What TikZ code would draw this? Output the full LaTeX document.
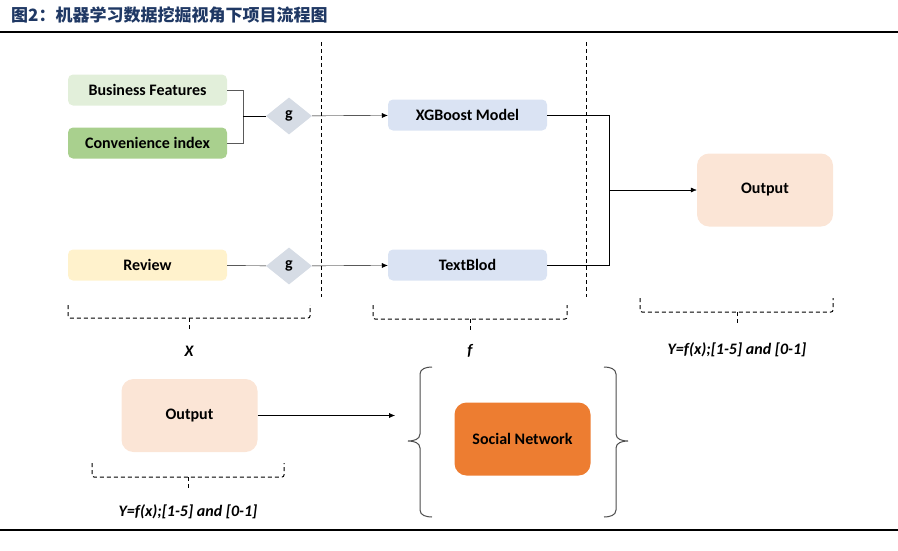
\documentclass[tikz,border=0pt]{standalone}
\usepackage{fontspec}
\setmainfont{Carlito}
\newfontfamily\cjk{Noto Sans CJK SC}
\usetikzlibrary{shapes.geometric,arrows.meta}
\definecolor{titleblue}{HTML}{1F3864}
\definecolor{bizfill}{HTML}{E2EFDA}
\definecolor{convfill}{HTML}{A9D08E}
\definecolor{reviewfill}{HTML}{FFF2CC}
\definecolor{modelfill}{HTML}{DAE3F3}
\definecolor{gatefill}{HTML}{D6DCE5}
\definecolor{outfill}{HTML}{FBE5D6}
\definecolor{socialfill}{HTML}{ED7D31}
\tikzset{
  flow/.style={
    every node/.style={font=\bfseries\fontsize{16}{18}\selectfont,inner sep=0pt},
    >={Latex[length=6pt,width=5pt]}
  }
}

\begin{document}
\begin{tikzpicture}[x=1pt, y=-1pt, flow]
            \tikzstyle{box}=[rounded corners=5pt,minimum width=159pt,minimum height=31pt]
            \tikzstyle{bigbox}=[rounded corners=12pt,minimum width=136pt,minimum height=73pt]
            \tikzstyle{gate}=[diamond,fill=gatefill,minimum width=46pt,minimum height=37pt]
            \tikzstyle{dashbrace}=[line width=1pt,dash pattern=on 4pt off 3pt,rounded corners=2pt]
            \tikzstyle{tag}=[font=\bfseries\itshape\fontsize{16}{18}\selectfont]
            \useasboundingbox (0,0) rectangle (898,550);

            % title and rules
            \node[anchor=west,text=titleblue,font=\cjk\bfseries\fontsize{17}{20}\selectfont] (title) at (11,15) {图2：机器学习数据挖掘视角下项目流程图};
            \draw[line width=2pt] (0,32) -- (898,32);
            \draw[line width=2pt] (0,530) -- (898,530);

            % inputs X
            \node[box,fill=bizfill] (biz) at (147.5,90) {Business Features};
            \node[box,fill=convfill] (conv) at (147.5,143) {Convenience index};
            \node[box,fill=reviewfill] (review) at (147.5,265) {Review};
            \node[gate] (g_1) at (289,116) {g};
            \node[gate] (g_2) at (289,266) {g};

            % models f
            \node[box,fill=modelfill] (xgb) at (467.5,115) {XGBoost Model};
            \node[box,fill=modelfill] (tb) at (467.5,265) {TextBlod};

            % outputs
            \node[bigbox,fill=outfill] (out_1) at (765,190) {Output};
            \node[bigbox,fill=outfill] (out_2) at (189.5,415.5) {Output};
            \node[bigbox,fill=socialfill] (social) at (522.5,439) {Social Network};

            \coordinate (j_1) at (243,116);
            \coordinate (j_2) at (609,190);
            \draw[gray!70!black] (biz.east) -| (j_1);
            \draw[gray!70!black] (conv.east) -| (j_1);
            \draw (j_1) -- (g_1);
            \draw[->] (g_1) -- (xgb);
            \draw (review) -- (g_2);
            \draw[->] (g_2) -- (tb);
            \draw (xgb.east) -| (j_2);
            \draw (tb.east) -| (j_2);
            \draw[->] (j_2) -- (out_1);
            \draw[->] (out_2) -- (395,415.5);

            % dashed separators
            \draw[line width=1pt,dash pattern=on 4pt off 3pt] (321,42) -- (321,297);
            \draw[line width=1pt,dash pattern=on 4pt off 3pt] (586,42) -- (586,297);

            % dashed braces and their labels
            \draw[dashbrace] (68,305) -- (68,318) -- (310,318) -- (310,305);
            \draw[dashbrace] (189,318) -- (189,331);
            \node[tag] (x_lab) at (189,351) {X};
            \draw[dashbrace] (373,305) -- (373,319) -- (567,319) -- (567,305);
            \draw[dashbrace] (470,319) -- (470,332);
            \node[tag] (f_lab) at (470,351) {f};
            \draw[dashbrace] (640,298) -- (640,312) -- (833,312) -- (833,298);
            \draw[dashbrace] (737,312) -- (737,325);
            \node[tag] (y_lab1) at (737,350) {Y=f(x);[1-5] and [0-1]};
            \draw[dashbrace] (92,463) -- (92,477) -- (284,477) -- (284,463);
            \draw[dashbrace] (188,477) -- (188,490);
            \node[tag] (y_lab2) at (188,512) {Y=f(x);[1-5] and [0-1]};

            % curly brackets round the social network
            \draw[gray!60!black,line width=1pt] (432,367) to[out=180,in=90] (420,374) -- (420,434) to[out=-90,in=0] (408,441) to[out=0,in=90] (420,448) -- (420,510) to[out=-90,in=180] (432,517);
            \draw[gray!60!black,line width=1pt] (604,367) to[out=0,in=90] (616,374) -- (616,434) to[out=-90,in=180] (628,441) to[out=180,in=90] (616,448) -- (616,510) to[out=-90,in=0] (604,517);
        \end{tikzpicture}
\end{document}
